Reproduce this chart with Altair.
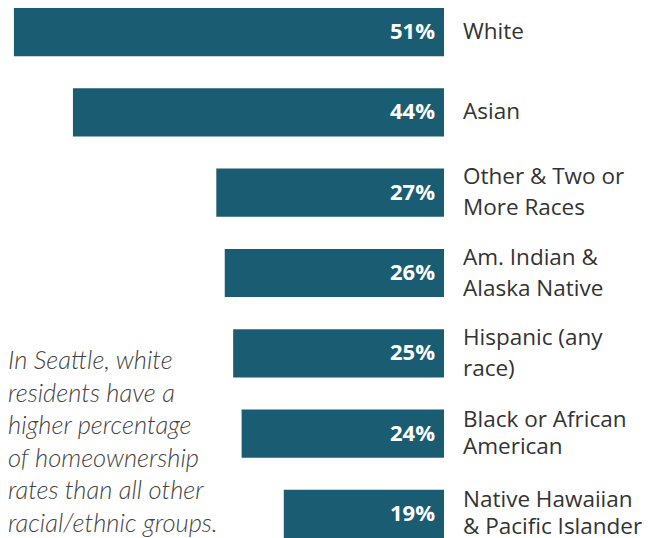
import altair as alt
import pandas as pd

categories = ["White", "Asian", "Other & Two or More Races", "Am. Indian & Alaska Native",
              "Hispanic (any race)", "Black or African American",
              "Native Hawaiian & Pacific Islander"]
labels = ["White", "Asian", "Other & Two or\nMore Races", "Am. Indian &\nAlaska Native",
          "Hispanic (any\nrace)", "Black or African\nAmerican",
          "Native Hawaiian\n& Pacific Islander"]
values = [51, 44, 27, 26, 25, 24, 19]
note = ["In Seattle, white", "residents have a", "higher percentage",
        "of homeownership", "rates than all other", "racial/ethnic groups."]

df = pd.DataFrame({"cat": categories, "label": labels, "value": values,
                   "pct": [f"{v}%" for v in values],
                   "lines": [l.count("\n") + 1 for l in labels],
                   "row": list(range(len(categories)))})

BAR = "#1a5c72"

y = alt.Y("cat:N", sort=None, axis=None,
          scale=alt.Scale(paddingInner=0.4, paddingOuter=0))
x = alt.X("value:Q", axis=None, scale=alt.Scale(domain=[0, 51.7], range=[436, 0]))

base = alt.Chart(df)

bars = base.mark_bar(color=BAR).encode(x=x, y=y)

pct = base.mark_text(align="right", baseline="middle", color="white",
                     font="Open Sans", fontWeight="bold", fontSize=22).encode(
    x=alt.value(427), y=y, text="pct:N")

lab_style = dict(align="left", baseline="middle", color="#333333",
                 font="Open Sans", fontSize=22.5, lineBreak="\n")

lab1 = base.transform_filter("datum.lines == 1").mark_text(**lab_style).encode(
    x=alt.value(455), y=y, text="label:N")
lab2 = base.transform_filter("datum.lines == 2 && datum.row < 5").mark_text(
    lineHeight=31, dy=-15.5, **lab_style).encode(x=alt.value(455), y=y, text="label:N")
lab3 = base.transform_filter("datum.lines == 2 && datum.row >= 5").mark_text(
    lineHeight=27, dy=-13.5, **lab_style).encode(x=alt.value(455), y=y, text="label:N")

ann = alt.Chart(pd.DataFrame({"t": ["\n".join(note)]})).mark_text(
    align="left", baseline="middle", color="#444444", font="Lato", fontStyle="italic",
    fontWeight=300, fontSize=25.5, lineBreak="\n", lineHeight=32.6).encode(
    x=alt.value(0), y=alt.value(353), text="t:N")

chart = alt.layer(bars, pct, lab1, lab2, lab3, ann).properties(
    width=646, height=530, padding=0,
    autosize=alt.AutoSizeParams(type="none")
).configure_view(stroke=None)

chart.save("out.html", embed_options={"renderer": "svg", "actions": False})
